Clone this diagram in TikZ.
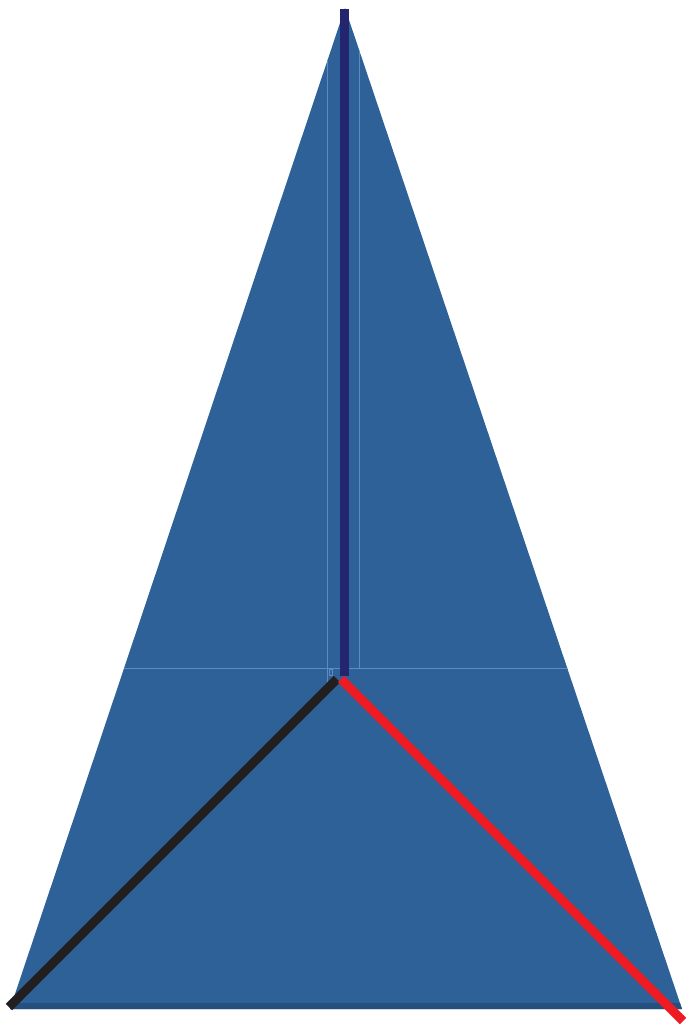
\documentclass[tikz,border=0pt]{standalone}
\begin{document}
\begin{tikzpicture}[x=1pt,y=-1pt,
  face/.style={fill=facecol,draw=none},
  seam/.style={draw=seamcol,line width=0.8pt},
  edge/.style={line width=9pt,line cap=butt}]
\definecolor{facecol}{HTML}{2D6197}
\definecolor{seamcol}{HTML}{5F8CBF}
\definecolor{shadecol}{HTML}{23507F}
\definecolor{navycol}{HTML}{23256F}
\definecolor{blackcol}{HTML}{231F20}
\definecolor{redcol}{HTML}{ED1C24}
\useasboundingbox (0,0) rectangle (689,1027);
\coordinate (A) at (345,8);
\coordinate (BL) at (10,1009);
\coordinate (BR) at (682,1009);
\coordinate (C) at (342,677);
\fill[facecol] (A) -- (BR) -- (BL) -- cycle;
\begin{scope}
  \clip (A) -- (BR) -- (BL) -- cycle;
  \fill[shadecol] (0,1003) rectangle (689,1010);
  \draw[seam] (0,668) -- (689,668);
  \draw[seam] (327,0) -- (327,692);
  \draw[seam] (359,0) -- (359,668);
  \draw[seam] (329,669) rectangle (332,675);
\end{scope}
\coordinate (T) at (344.5,9);
\coordinate (Cb) at (344.5,676);
\coordinate (Ck) at (337,679);
\coordinate (Ek) at (9,1007);
\coordinate (Cr) at (341,679);
\coordinate (Er) at (683,1021);
\draw[edge,draw=navycol] (T) -- (Cb);
\draw[edge,draw=blackcol] (Ck) -- (Ek);
\draw[edge,draw=redcol] (Cr) -- (Er);
\end{tikzpicture}
\end{document}
